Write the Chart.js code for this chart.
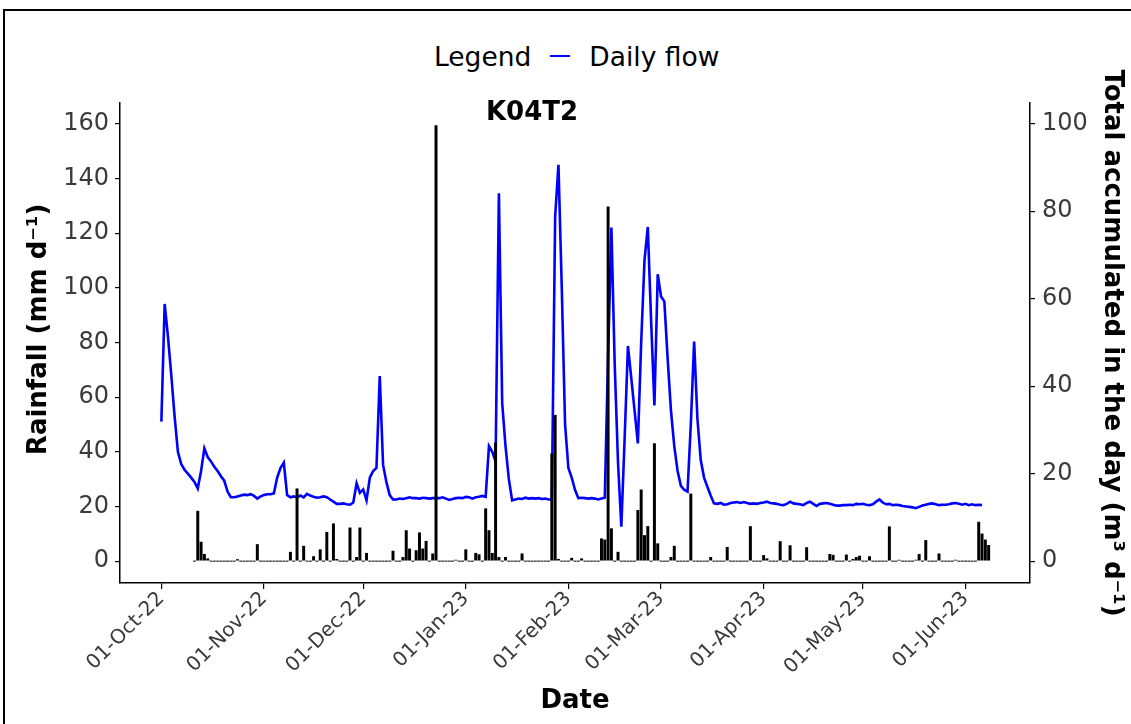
<!DOCTYPE html>
<html>
<head>
<meta charset="utf-8">
<title>K04T2</title>
<script src="https://cdn.jsdelivr.net/npm/chart.js@4.4.1/dist/chart.umd.min.js"></script>
<style>
  body { margin: 0; background: #fff; }
  #wrap { position: relative; width: 1131px; height: 724px; overflow: hidden; }
  #frame { position: absolute; left: 3px; top: 9px; right: -4px; bottom: -4px; border-top: 2px solid #000; border-left: 2px solid #000; pointer-events: none; }
  #legend { position: absolute; left: 434px; top: 39px; height: 34px; display: flex; align-items: center;
            font-family: "DejaVu Sans", sans-serif; font-size: 26.5px; color: #000; white-space: nowrap; }
  #legend .swatch { display: inline-block; width: 20px; height: 0; border-top: 2.5px solid #0000ff; margin: 0 19px; }
  canvas { position: absolute; left: 0; top: 0; }
</style>
</head>
<body>
<div id="wrap">
  <div id="frame"></div>
  <div id="legend"><span>Legend</span><span class="swatch"></span><span>Daily flow</span></div>
  <canvas id="chart" width="1131" height="724"></canvas>
</div>
<script>
// 横軸: 2022-10-01 からの経過日数
const monthDays   = [0, 31, 61, 92, 123, 151, 182, 212, 243];
const monthLabels = ['01-Oct-22', '01-Nov-22', '01-Dec-22', '01-Jan-23', '01-Feb-23',
                     '01-Mar-23', '01-Apr-23', '01-May-23', '01-Jun-23'];

// 日流量 (m3 d-1), 2022-10-01 から1日ごと
const dailyFlow = [
  // Oct
  31.9, 58.8, 51.3, 42.5, 33.1, 25.0, 22.2, 20.9, 20.0, 19.1, 18.1, 16.6, 20.6, 25.8, 23.8, 22.8,
  21.6, 20.6, 19.4, 18.4, 15.9, 14.6, 14.6, 14.8, 15.0, 15.2, 15.1, 15.3, 14.9, 14.3, 14.8,
  // Nov
  15.1, 15.3, 15.3, 15.5, 19.1, 21.3, 22.5, 15.1, 14.6, 14.8, 14.6, 15.0, 14.6, 15.4, 15.0,
  14.7, 14.5, 14.6, 14.8, 14.6, 14.1, 13.6, 13.1, 13.1, 13.2, 13.0, 12.9, 13.4, 17.8, 15.6,
  // Dec
  16.4, 13.9, 19.1, 20.6, 21.3, 42.3, 22.0, 18.1, 15.1, 14.1, 14.1, 14.3, 14.2, 14.4, 14.6,
  14.4, 14.4, 14.3, 14.5, 14.4, 14.3, 14.4, 14.4, 14.4, 14.6, 14.3, 14.0, 14.2, 14.4, 14.5, 14.4,
  // Jan
  14.7, 14.6, 14.3, 14.6, 14.7, 14.9, 14.7, 26.3, 25.0, 22.8, 84.1, 36.1, 26.3, 18.8, 13.9,
  14.1, 14.3, 14.2, 14.5, 14.3, 14.4, 14.3, 14.4, 14.2, 14.3, 14.1, 14.1, 78.8, 90.6, 62.5, 31.3,
  // Feb
  21.3, 19.1, 16.3, 14.4, 14.5, 14.4, 14.3, 14.4, 14.3, 14.1, 14.3, 14.5, 46.9, 76.3, 45.0,
  22.5, 7.9, 28.1, 49.2, 41.9, 34.4, 26.9, 50.0, 68.8, 76.4, 55.0, 35.6, 65.6,
  // Mar
  60.5, 59.4, 46.3, 34.4, 26.3, 20.6, 17.2, 16.3, 15.9, 31.3, 50.2, 32.5, 23.1, 19.1, 17.0,
  15.0, 13.2, 13.1, 13.3, 12.9, 13.0, 13.3, 13.4, 13.5, 13.3, 13.5, 13.3, 13.1, 13.2, 13.1, 13.3,
  // Apr
  13.4, 13.6, 13.3, 13.2, 13.1, 12.9, 12.8, 13.1, 13.6, 13.2, 13.1, 13.0, 12.8, 13.3, 13.6,
  13.1, 12.6, 13.1, 13.2, 13.3, 13.1, 12.9, 12.7, 12.7, 12.8, 12.8, 12.9, 12.8, 13.1, 13.0,
  // May
  13.1, 12.9, 12.8, 13.0, 13.6, 14.1, 13.4, 13.0, 13.1, 12.8, 12.9, 12.8, 12.6, 12.5, 12.4,
  12.3, 12.1, 12.4, 12.7, 12.9, 13.1, 13.2, 13.0, 12.8, 12.9, 12.9, 13.0, 13.2, 13.3, 13.1, 12.9,
  // Jun
  13.1, 12.8, 13.0, 12.8, 12.9, 12.8,
];

// 降水量 (mm d-1), 2022-10-11 から1日ごと
const rainFirstDay = 10;
const rainfall = [
  // Oct 11-31
  0, 18.4, 7.1, 2.6, 1, 0, 0, 0, 0, 0, 0, 0, 0, 0.7, 0, 0, 0, 0, 0, 6.2, 0,
  // Nov
  0, 0, 0, 0, 0, 0, 0, 0, 3.4, 0, 26.6, 0, 5.6, 0, 0, 1.8, 0, 4.3, 0, 10.7, 0, 13.8, 0.8, 0, 0, 0, 12.3, 0, 1.5, 12.3,
  // Dec
  0, 3, 0, 0, 0, 0, 0, 0, 0, 3.8, 0, 0, 1.5, 11.3, 4.6, 0, 4, 10.5, 4.6, 7.4, 0, 2.8, 159.5, 0, 0, 0, 0, 0, 0.5, 0, 0,
  // Jan
  4.3, 0, 0, 3, 2.5, 0, 19.3, 11.3, 3, 43.4, 1.5, 0, 1.5, 0, 0, 0, 0, 2.8, 0, 0, 0, 0, 0, 0, 0, 0, 39.4, 53.5, 0.8, 0, 0,
  // Feb
  0, 1.2, 0, 0, 1, 0, 0, 0, 0, 0, 8.3, 7.9, 129.7, 12, 0, 3.4, 0, 0, 0, 0, 0, 18.7, 26.2, 9.5, 12.8, 0, 43.1, 6.5,
  // Mar
  0, 0, 0, 1.5, 5.6, 0, 0, 0, 0, 24.7, 0, 0, 0, 0, 0, 1.5, 0, 0, 0, 0, 5.2, 0, 0, 0, 0, 0, 0, 12.8, 0, 0, 0,
  // Apr
  2.2, 1, 0, 0, 0, 7.3, 0, 0, 5.8, 0, 0, 0, 0, 5.1, 0, 0, 0, 0, 0, 0, 2.6, 2.3, 0, 0, 0, 2.4, 0, 0.8, 1.5, 2,
  // May
  0, 0, 1.8, 0, 0, 0, 0, 0, 12.7, 0, 0, 0.5, 0, 0, 0, 0, 0.5, 2.6, 0, 7.7, 0, 0, 0, 2.8, 0, 0, 0, 0, 0.5, 0, 0,
  // Jun 1-8
  0, 0, 0, 0, 14.4, 10.1, 7.9, 5.9,
];

// 図中ラベル (日数, 降水量軸の値)
const plotLabel = { text: 'K04T2', day: 112, value: 164 };

const FONT = '"DejaVu Sans", sans-serif';
const TICK_COLOR = '#3a3a3a';

// 図中に観測点名を描くプラグイン
const plotLabelPlugin = {
  id: 'plotLabel',
  afterDatasetsDraw(chart) {
    const { ctx, scales } = chart;
    ctx.save();
    ctx.font = 'bold 26px ' + FONT;
    ctx.fillStyle = '#000';
    ctx.textAlign = 'center';
    ctx.textBaseline = 'middle';
    ctx.fillText(plotLabel.text, scales.x.getPixelForValue(plotLabel.day), scales.y.getPixelForValue(plotLabel.value));
    ctx.restore();
  }
};

new Chart(document.getElementById('chart'), {
  type: 'bar',
  data: {
    datasets: [
      {
        type: 'bar',
        label: 'Rainfall',
        data: rainfall.map((v, i) => ({ x: rainFirstDay + i, y: v })),
        backgroundColor: '#000',
        borderWidth: 0,
        barPercentage: 0.9,
        categoryPercentage: 1,
        minBarLength: 1,
        yAxisID: 'y',
        order: 0,
      },
      {
        type: 'line',
        label: 'Daily flow',
        data: dailyFlow.map((v, i) => ({ x: i, y: v })),
        borderColor: '#0000ff',
        borderWidth: 2.6,
        pointRadius: 0,
        tension: 0,
        yAxisID: 'y2',
        order: 1,
      },
    ],
  },
  options: {
    responsive: false,
    animation: false,
    devicePixelRatio: 1,
    layout: { padding: { top: 103, left: 0, right: 0, bottom: 0 } },
    plugins: {
      legend: { display: false },
      tooltip: { enabled: false },
    },
    scales: {
      x: {
        type: 'linear',
        min: -12.5,
        max: 262.5,
        offset: false,
        grid: { display: true, drawOnChartArea: false, offset: false, tickLength: 6, color: '#000', lineWidth: 1.2 },
        border: { display: true, color: '#000', width: 1.5 },
        afterBuildTicks: (axis) => { axis.ticks = monthDays.map(v => ({ value: v })); },
        afterFit: (axis) => { axis.height = 141; },
        ticks: {
          autoSkip: false,
          minRotation: 45,
          maxRotation: 45,
          padding: -2,
          color: TICK_COLOR,
          font: { family: FONT, size: 20 },
          callback: (value, index) => monthLabels[index],
        },
        title: {
          display: true,
          text: 'Date',
          color: '#000',
          font: { family: FONT, size: 26, weight: 'bold' },
          padding: { top: 0, bottom: 7 },
        },
      },
      y: {
        type: 'linear',
        position: 'left',
        min: -8,
        max: 167.6,
        grid: { drawOnChartArea: false, tickLength: 5, color: '#000', lineWidth: 1.2 },
        border: { display: true, color: '#000', width: 1.5 },
        afterFit: (axis) => { axis.width = 120; },
        ticks: {
          stepSize: 20,
          includeBounds: false,
          padding: 6,
          color: TICK_COLOR,
          font: { family: FONT, size: 24 },
        },
        title: {
          display: true,
          text: '   Rainfall (mm d⁻¹)',
          color: '#000',
          font: { family: FONT, size: 26, weight: 'bold' },
          padding: { top: 24, bottom: 0 },
        },
      },
      y2: {
        type: 'linear',
        position: 'right',
        min: -5,
        max: 104.75,
        grid: { drawOnChartArea: false, tickLength: 5, color: '#000', lineWidth: 1.2 },
        border: { display: true, color: '#000', width: 1.5 },
        afterFit: (axis) => { axis.width = 101; },
        ticks: {
          stepSize: 20,
          includeBounds: false,
          padding: 7,
          color: TICK_COLOR,
          font: { family: FONT, size: 24 },
        },
        title: {
          display: true,
          text: 'Total accumulated in the day (m³ d⁻¹)',
          color: '#000',
          font: { family: FONT, size: 26, weight: 'bold' },
          padding: { top: 4, bottom: 0 },
        },
      },
    },
  },
  plugins: [plotLabelPlugin],
});
</script>
</body>
</html>
